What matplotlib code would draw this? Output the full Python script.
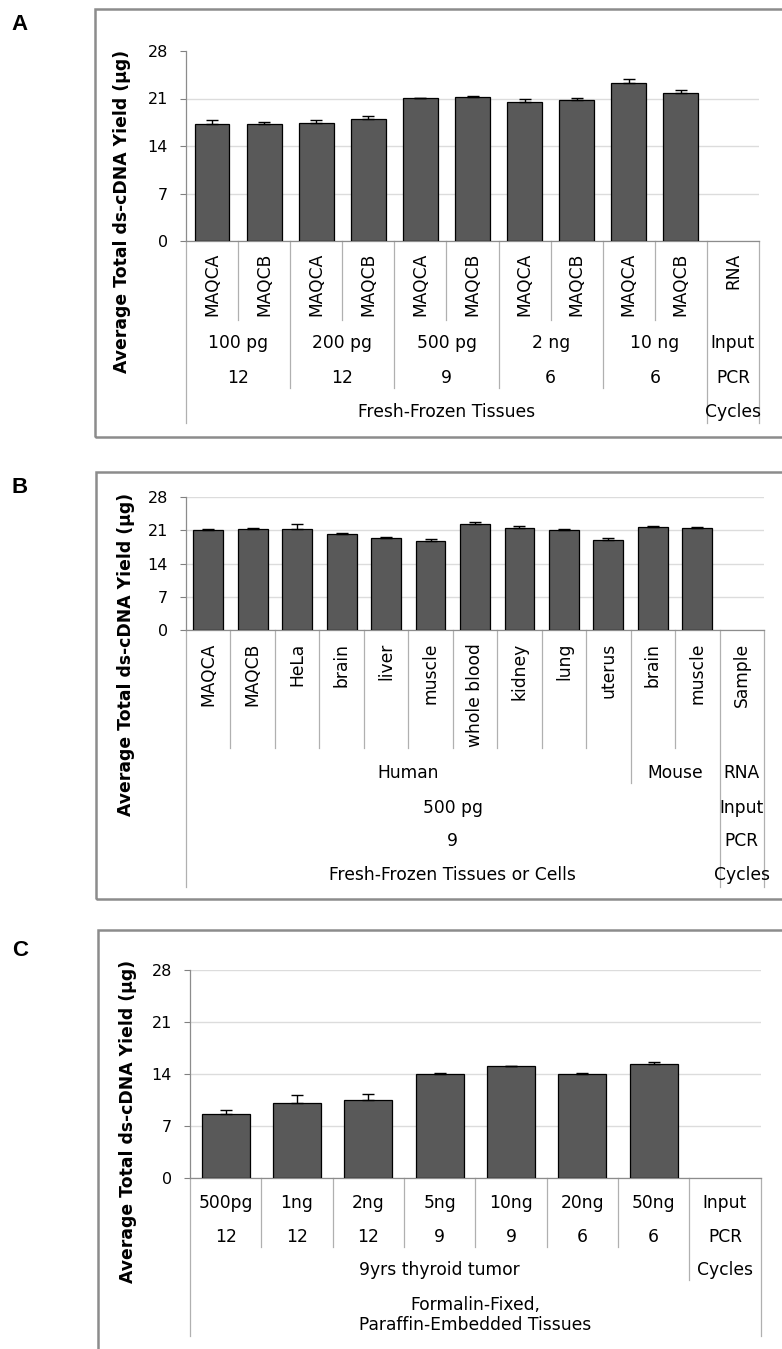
"""
ds-cDNA yield across input amounts, tissues and FFPE samples (panels A-C).
"""
import matplotlib

matplotlib.use("Agg")
import matplotlib.pyplot as plt
import numpy as np
from matplotlib.patches import Rectangle
from matplotlib.transforms import blended_transform_factory

FIG_W, FIG_H = 782, 1349
BAR_COLOUR = "#595959"
LINE_COLOUR = "#b0b0b0"
FRAME_COLOUR = "#8c8c8c"
TEXT_SIZE = 12.3
Y_LABEL = "Average Total ds-cDNA Yield (\u03bcg)"
Y_TICKS = [0, 7, 14, 21, 28]

# --- Panel A: MAQC references, input titration -----------------------------
a_samples = ["MAQCA", "MAQCB"] * 5
a_inputs = ["100 pg", "200 pg", "500 pg", "2 ng", "10 ng"]
a_cycles = ["12", "12", "9", "6", "6"]
a_tissue = "Fresh-Frozen Tissues"
a_yield = [17.26, 17.26, 17.4, 17.94, 21.03, 21.18, 20.5, 20.74, 23.33, 21.8]
a_err = [0.55, 0.3, 0.4, 0.55, 0.1, 0.25, 0.4, 0.4, 0.5, 0.5]

# --- Panel B: tissues / cells at 500 pg --------------------------------------
b_samples = ["MAQCA", "MAQCB", "HeLa", "brain", "liver", "muscle",
             "whole blood", "kidney", "lung", "uterus", "brain", "muscle"]
b_species = ["Human", "Mouse"]
b_species_n = [10, 2]
b_input = "500 pg"
b_cycles = "9"
b_tissue = "Fresh-Frozen Tissues or Cells"
b_yield = [21.04, 21.25, 21.25, 20.27, 19.35, 18.79, 22.24, 21.46, 21.04, 18.93, 21.67, 21.46]
b_err = [0.2, 0.2, 1.0, 0.2, 0.2, 0.35, 0.4, 0.35, 0.2, 0.4, 0.15, 0.2]

# --- Panel C: FFPE thyroid tumour ------------------------------------------
c_inputs = ["500pg", "1ng", "2ng", "5ng", "10ng", "20ng", "50ng"]
c_cycles = ["12", "12", "12", "9", "9", "6", "6"]
c_sample = "9yrs thyroid tumor"
c_tissue = "Formalin-Fixed,\nParaffin-Embedded Tissues"
c_yield = [8.6, 10.08, 10.57, 13.98, 15.05, 13.98, 15.32]
c_err = [0.63, 1.08, 0.72, 0.13, 0.0, 0.13, 0.27]


def fy(y_px):
    """Pixel row (from top) -> figure fraction."""
    return 1 - y_px / FIG_H


def add_axes(fig, x0, x1, y_top, y_bottom):
    return fig.add_axes([x0 / FIG_W, fy(y_bottom), (x1 - x0) / FIG_W, (y_bottom - y_top) / FIG_H])


def draw_bars(ax, values, errors, n_slots, top_grid=True):
    x = np.arange(len(values))
    ax.bar(
        x, values, width=0.67, color=BAR_COLOUR, edgecolor="black", linewidth=0.9,
        yerr=[np.zeros(len(errors)), errors], capsize=4,
        error_kw=dict(elinewidth=1, capthick=1, ecolor="black"), zorder=3,
    )
    ax.set_xlim(-0.5, n_slots - 0.5)
    ax.set_ylim(0, 28)
    ax.set_yticks(Y_TICKS)
    ax.set_xticks([])
    ax.tick_params(axis="y", length=4.5, width=0.8, color="#808080", pad=8.5, labelsize=11.5)
    for side in ("top", "right"):
        ax.spines[side].set_visible(False)
    for side in ("left", "bottom"):
        ax.spines[side].set_color("#8c8c8c")
        ax.spines[side].set_linewidth(0.9)
    ax.yaxis.grid(True, color="#dcdcdc", linewidth=1, zorder=0)
    ax.set_axisbelow(True)
    if not top_grid:
        ax.get_ygridlines()[-1].set_visible(False)


def table_line(ax, x, y0, y1):
    tr = blended_transform_factory(ax.transData, ax.figure.transFigure)
    ax.plot([x, x], [fy(y0), fy(y1)], transform=tr, color=LINE_COLOUR,
            linewidth=0.9, clip_on=False)


def table_text(ax, x, y, s, **kw):
    tr = blended_transform_factory(ax.transData, ax.figure.transFigure)
    opts = dict(ha="center", va="center", fontsize=TEXT_SIZE)
    opts.update(kw)
    ax.text(x, fy(y), s, transform=tr, clip_on=False, **opts)


def panel_frame(fig, x0, y0, x1, y1):
    fig.patches.append(Rectangle(
        (x0 / FIG_W, fy(y1)), (x1 - x0) / FIG_W, (y1 - y0) / FIG_H,
        transform=fig.transFigure, fill=False, edgecolor=FRAME_COLOUR, linewidth=1.8,
    ))


fig = plt.figure(figsize=(FIG_W / 100, FIG_H / 100), dpi=100)

panel_frame(fig, 95, 9, 800, 437)
panel_frame(fig, 96, 472, 800, 899)
panel_frame(fig, 98, 930, 800, 1370)

for letter, y in (("A", 25), ("B", 487), ("C", 950)):
    fig.text(20 / FIG_W, fy(y), letter, ha="center", va="center",
             fontsize=16, fontweight="bold", family="Liberation Sans")

for x, y in ((122, 211), (126, 654), (128, 1121)):
    fig.text(x / FIG_W, fy(y), Y_LABEL, rotation=90, ha="center", va="center",
             fontsize=12.4, fontweight="bold")

# ---------------------------------------------------------------------------
# Panel A
# ---------------------------------------------------------------------------
ax_a = add_axes(fig, 186, 759, 51, 241)
n_a = len(a_samples)
draw_bars(ax_a, a_yield, a_err, n_a + 1, top_grid=False)
for i, s in enumerate(a_samples + ["RNA"]):
    table_text(ax_a, i, 253, s, rotation=90, va="top")
for b in range(n_a + 2):
    edge = b - 0.5
    if b == 0 or b >= n_a:
        table_line(ax_a, edge, 241, 423)
    elif b % 2 == 0:
        table_line(ax_a, edge, 241, 388)
    else:
        table_line(ax_a, edge, 241, 320)
for g, (inp, cyc) in enumerate(zip(a_inputs, a_cycles)):
    table_text(ax_a, 2 * g + 0.5, 343, inp)
    table_text(ax_a, 2 * g + 0.5, 378, cyc)
table_text(ax_a, (n_a - 1) / 2, 412, a_tissue)
for y, s in ((343, "Input"), (378, "PCR"), (412, "Cycles")):
    table_text(ax_a, n_a, y, s)

# ---------------------------------------------------------------------------
# Panel B
# ---------------------------------------------------------------------------
ax_b = add_axes(fig, 186, 764, 497, 630)
n_b = len(b_samples)
draw_bars(ax_b, b_yield, b_err, n_b + 1)
for i, s in enumerate(b_samples + ["Sample"]):
    table_text(ax_b, i, 643, s, rotation=90, va="top")
species_edges = np.cumsum(b_species_n)
for b in range(n_b + 2):
    edge = b - 0.5
    if b == 0 or b >= n_b:
        table_line(ax_b, edge, 630, 887)
    elif b in species_edges:
        table_line(ax_b, edge, 630, 783)
    else:
        table_line(ax_b, edge, 630, 748)
start = 0
for name, n in zip(b_species, b_species_n):
    table_text(ax_b, start + (n - 1) / 2, 773, name)
    start += n
table_text(ax_b, (n_b - 1) / 2, 808, b_input)
table_text(ax_b, (n_b - 1) / 2, 841, b_cycles)
table_text(ax_b, (n_b - 1) / 2, 875, b_tissue)
for y, s in ((773, "RNA"), (808, "Input"), (841, "PCR"), (875, "Cycles")):
    table_text(ax_b, n_b, y, s)

# ---------------------------------------------------------------------------
# Panel C
# ---------------------------------------------------------------------------
ax_c = add_axes(fig, 190, 760.6, 970, 1178.3)
n_c = len(c_inputs)
draw_bars(ax_c, c_yield, c_err, n_c + 1)
for i, (inp, cyc) in enumerate(zip(c_inputs + ["Input"], c_cycles + ["PCR"])):
    table_text(ax_c, i, 1203, inp)
    table_text(ax_c, i, 1237, cyc)
for b in range(n_c + 2):
    edge = b - 0.5
    if b == 0 or b == n_c + 1:
        table_line(ax_c, edge, 1178, 1336)
    elif b == n_c:
        table_line(ax_c, edge, 1178, 1280)
    else:
        table_line(ax_c, edge, 1178, 1247)
table_text(ax_c, (n_c - 1) / 2, 1270, c_sample)
table_text(ax_c, n_c, 1270, "Cycles")
table_text(ax_c, n_c / 2, 1315, c_tissue, linespacing=1.1)

fig.savefig("out.png", dpi=100)
